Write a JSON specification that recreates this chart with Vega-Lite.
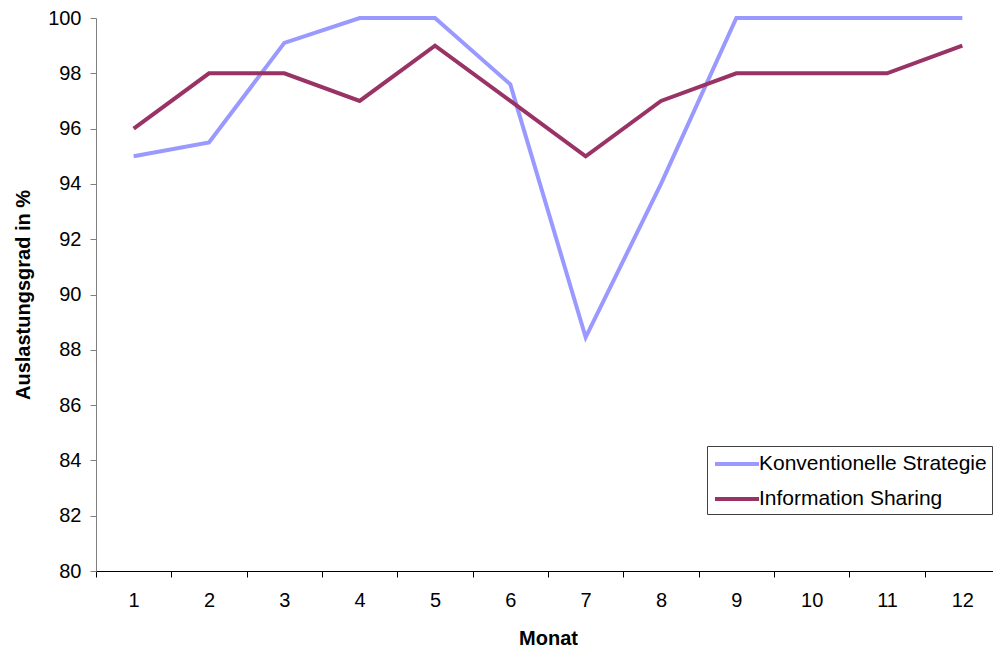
{
  "$schema": "https://vega.github.io/schema/vega-lite/v6.json",
  "autosize": "none",
  "padding": {"left": 96, "top": 18, "right": 0, "bottom": 82},
  "width": 904,
  "height": 553,
  "background": "white",
  "config": {
    "view": {"stroke": null},
    "font": "Liberation Sans"
  },
  "data": {
    "values": [
      {"Monat": "1", "Serie": "Konventionelle Strategie", "Wert": 95.0},
      {"Monat": "2", "Serie": "Konventionelle Strategie", "Wert": 95.5},
      {"Monat": "3", "Serie": "Konventionelle Strategie", "Wert": 99.1},
      {"Monat": "4", "Serie": "Konventionelle Strategie", "Wert": 100},
      {"Monat": "5", "Serie": "Konventionelle Strategie", "Wert": 100},
      {"Monat": "6", "Serie": "Konventionelle Strategie", "Wert": 97.6},
      {"Monat": "7", "Serie": "Konventionelle Strategie", "Wert": 88.45},
      {"Monat": "8", "Serie": "Konventionelle Strategie", "Wert": 94.0},
      {"Monat": "9", "Serie": "Konventionelle Strategie", "Wert": 100},
      {"Monat": "10", "Serie": "Konventionelle Strategie", "Wert": 100},
      {"Monat": "11", "Serie": "Konventionelle Strategie", "Wert": 100},
      {"Monat": "12", "Serie": "Konventionelle Strategie", "Wert": 100},
      {"Monat": "1", "Serie": "Information Sharing", "Wert": 96},
      {"Monat": "2", "Serie": "Information Sharing", "Wert": 98},
      {"Monat": "3", "Serie": "Information Sharing", "Wert": 98},
      {"Monat": "4", "Serie": "Information Sharing", "Wert": 97},
      {"Monat": "5", "Serie": "Information Sharing", "Wert": 99},
      {"Monat": "6", "Serie": "Information Sharing", "Wert": 97},
      {"Monat": "7", "Serie": "Information Sharing", "Wert": 95},
      {"Monat": "8", "Serie": "Information Sharing", "Wert": 97},
      {"Monat": "9", "Serie": "Information Sharing", "Wert": 98},
      {"Monat": "10", "Serie": "Information Sharing", "Wert": 98},
      {"Monat": "11", "Serie": "Information Sharing", "Wert": 98},
      {"Monat": "12", "Serie": "Information Sharing", "Wert": 99}
    ]
  },
  "mark": {"type": "line", "strokeWidth": 4, "strokeJoin": "miter", "strokeCap": "butt"},
  "encoding": {
    "x": {
      "field": "Monat",
      "type": "ordinal",
      "sort": ["1","2","3","4","5","6","7","8","9","10","11","12"],
      "bandPosition": 0.5,
      "scale": {"type": "band", "paddingInner": 0, "paddingOuter": 0},
      "axis": {
        "title": "Monat",
        "titleFontSize": 20,
        "titleFontWeight": "bold",
        "titleColor": "black",
        "titlePadding": 18,
        "labelAngle": 0,
        "labelFontSize": 20,
        "labelColor": "black",
        "labelPadding": 13,
        "tickBand": "extent",
        "tickSize": 6,
        "tickColor": "black",
        "domainColor": "black",
        "grid": false
      }
    },
    "y": {
      "field": "Wert",
      "type": "quantitative",
      "scale": {"domain": [80, 100], "nice": false, "zero": false},
      "axis": {
        "title": "Auslastungsgrad in %",
        "titleFontSize": 20,
        "titleFontWeight": "bold",
        "titleColor": "black",
        "titlePadding": 14,
        "values": [80,82,84,86,88,90,92,94,96,98,100],
        "labelFontSize": 20,
        "labelColor": "black",
        "labelPadding": 9,
        "tickSize": 6,
        "tickColor": "#808080",
        "domainColor": "#808080",
        "grid": false
      }
    },
    "color": {
      "field": "Serie",
      "type": "nominal",
      "sort": ["Konventionelle Strategie", "Information Sharing"],
      "scale": {"domain": ["Konventionelle Strategie", "Information Sharing"], "range": ["#9999FF", "#993366"]},
      "legend": {
        "title": null,
        "orient": "none",
        "legendX": 611,
        "legendY": 428,
        "strokeColor": "#404040",
        "fillColor": "white",
        "padding": 5,
        "symbolType": "M-2,0L2,0",
        "symbolStrokeWidth": 4,
        "symbolSize": 484,
        "symbolOffset": 12,
        "labelFontSize": 21,
        "labelColor": "black",
        "labelOffset": 9,
        "rowPadding": 12,
        "labelLimit": 400
      }
    }
  }
}
